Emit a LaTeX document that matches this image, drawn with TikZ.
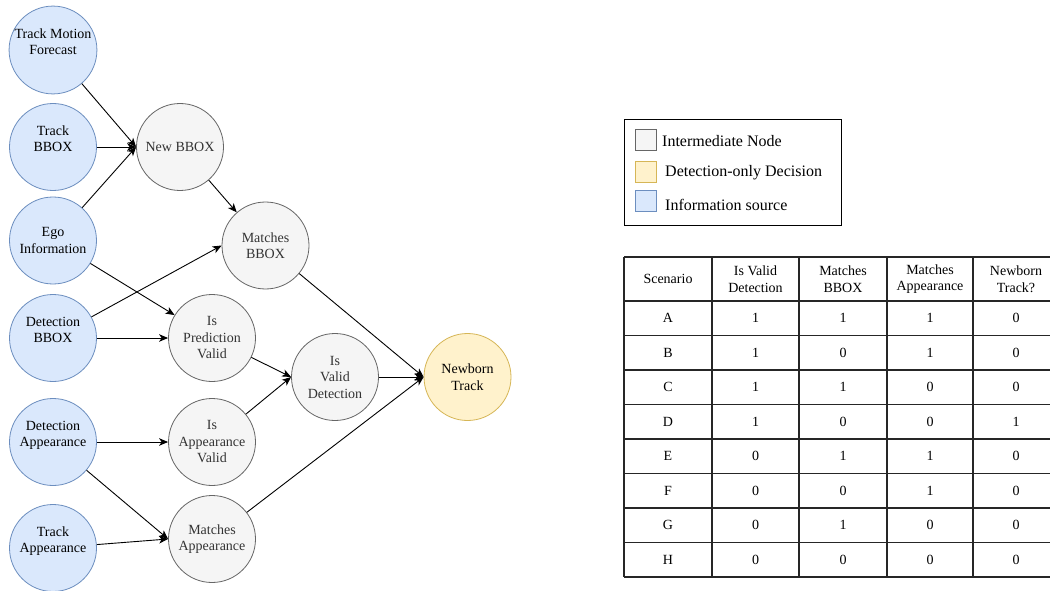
\documentclass[tikz,border=0pt]{standalone}
\usepackage{fontspec}
\setmainfont{Liberation Serif}
\usetikzlibrary{arrows.meta}
\definecolor{srcfill}{HTML}{DAE8FC}
\definecolor{srcline}{HTML}{6C8EBF}
\definecolor{midfill}{HTML}{F5F5F5}
\definecolor{midline}{HTML}{666666}
\definecolor{midtext}{HTML}{333333}
\definecolor{decfill}{HTML}{FFF2CC}
\definecolor{decline}{HTML}{D6B656}
\begin{document}
\begin{tikzpicture}[x=1pt,y=-1pt,
  src/.style={circle,draw=srcline,fill=srcfill,line width=0.8pt,minimum size=87pt,inner sep=0pt,align=center,font=\fontsize{14}{16.5}\selectfont},
  mid/.style={src,draw=midline,fill=midfill,text=midtext},
  dec/.style={src,draw=decline,fill=decfill,text=black},
  arr/.style={draw=black,line width=0.9pt,-{Stealth[length=9pt,width=7.5pt,inset=2.5pt]}},
  swatch/.style={draw,minimum size=21pt,inner sep=0pt,line width=0.8pt},
  legtext/.style={anchor=west,font=\fontsize{16}{18}\selectfont,inner sep=0pt},
  cell/.style={align=center,font=\fontsize{14}{16.5}\selectfont,inner sep=0pt},
  gridline/.style={line width=1.1pt,draw=black!85}
]
\useasboundingbox (0,0) rectangle (1050,591);
\fill[white] (0,0) rectangle (1050,591);

% information sources
\node[src] (tmf) at (53,50) {Track Motion\\Forecast\\\phantom{B}};
\node[src] (tbb) at (53,147) {Track\\BBOX\\\phantom{B}};
\node[src] (ego) at (53,240.5) {Ego\\Information};
\node[src] (dbb) at (53,338) {Detection\\BBOX\\\phantom{B}};
\node[src] (dap) at (53,442) {Detection\\Appearance\\\phantom{B}};
\node[src] (tap) at (53,548) {Track\\Appearance\\\phantom{B}};

% intermediate nodes
\node[mid] (nbb) at (180,147) {New BBOX};
\node[mid] (mbb) at (265.5,245.5) {Matches\\BBOX};
\node[mid] (ipv) at (212,338) {Is\\Prediction\\Valid};
\node[mid] (iav) at (212,442) {Is\\Appearance\\Valid};
\node[mid] (map) at (212,539) {Matches\\Appearance};
\node[mid] (ivd) at (335,377) {Is\\Valid\\Detection};

% decision
\node[dec] (nbt) at (467.5,377) {Newborn\\Track};

% connectors
\draw[arr] (tmf) -- (nbb.west);
\draw[arr] (tbb) -- (nbb.west);
\draw[arr] (ego) -- (nbb.west);
\draw[arr] (nbb) -- (mbb);
\draw[arr] (ego) -- (ipv);
\draw[arr] (dbb) -- (mbb.west);
\draw[arr] (dbb) -- (ipv);
\draw[arr] (dap) -- (iav.west);
\draw[arr] (dap) -- (map.west);
\draw[arr] (tap) -- (map.west);
\draw[arr] (ipv) -- (ivd.west);
\draw[arr] (iav) -- (ivd.west);
\draw[arr] (mbb) -- (nbt.west);
\draw[arr] (ivd) -- (nbt.west);
\draw[arr] (map) -- (nbt.west);

% legend
\draw[line width=0.8pt] (624,119) rectangle (841,225);
\node[swatch,draw=midline,fill=midfill] (sw1) at (645.5,140) {};
\node[swatch,draw=decline,fill=decfill] (sw2) at (645.5,172) {};
\node[swatch,draw=srcline,fill=srcfill] (sw3) at (645.5,201) {};
\node[legtext] (lt1) at (662,141) {Intermediate Node};
\node[legtext] (lt2) at (665,173) {Detection-only Decision};
\node[legtext] (lt3) at (665,205) {Information source};

% table grid
\foreach \yy in {257,301,335.5,370,404.5,439,473.5,508,542.5,577}
  \draw[gridline] (624,\yy) -- (1050,\yy);
\foreach \xx in {624,712,799,887,973}
  \draw[gridline] (\xx,257) -- (\xx,577);

% header
\node[cell] (h1) at (668,279) {Scenario};
\node[cell] (h2) at (755.5,279) {Is Valid\\Detection};
\node[cell] (h3) at (843,279) {Matches\\BBOX};
\node[cell] (h4) at (930,279) {Matches\\Appearance};
\node[cell] (h5) at (1016,279) {Newborn\\Track?};

% rows
\foreach \r/\s/\a/\b/\c [count=\i] in {A/1/1/1/0,B/1/0/1/0,C/1/1/0/0,D/1/0/0/1,E/0/1/1/0,F/0/0/1/0,G/0/1/0/0,H/0/0/0/0}{
  \pgfmathsetmacro{\ry}{301+34.5*(\i-0.5)}
  \node[cell] (c\i-1) at (668,\ry) {\r};
  \node[cell] (c\i-2) at (755.5,\ry) {\s};
  \node[cell] (c\i-3) at (843,\ry) {\a};
  \node[cell] (c\i-4) at (930,\ry) {\b};
  \node[cell] (c\i-5) at (1016,\ry) {\c};
}
\end{tikzpicture}
\end{document}
